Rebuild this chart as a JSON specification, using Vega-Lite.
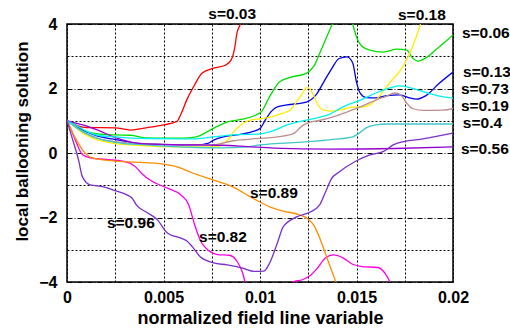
{
  "$schema": "https://vega.github.io/schema/vega-lite/v6.json",
  "autosize": "none",
  "width": 386,
  "height": 258,
  "padding": {"left": 67, "top": 24, "right": 57, "bottom": 47},
  "background": "white",
  "config": {
    "view": {"stroke": "black", "strokeWidth": 1.5},
    "font": "Liberation Sans"
  },
  "datasets": {
    "curves": [
      {"s": "0.03", "x": 0, "y": 1}, {"s": "0.03", "x": 0.0005, "y": 0.86}, {"s": "0.03", "x": 0.001, "y": 0.79}, {"s": "0.03", "x": 0.0025, "y": 0.78}, {"s": "0.03", "x": 0.0033, "y": 0.71}, {"s": "0.03", "x": 0.0041, "y": 0.78}, {"s": "0.03", "x": 0.005, "y": 0.87}, {"s": "0.03", "x": 0.0057, "y": 0.98}, {"s": "0.03", "x": 0.0059, "y": 1.2}, {"s": "0.03", "x": 0.0062, "y": 1.64}, {"s": "0.03", "x": 0.0066, "y": 2.1}, {"s": "0.03", "x": 0.007, "y": 2.48}, {"s": "0.03", "x": 0.0076, "y": 2.63}, {"s": "0.03", "x": 0.0082, "y": 2.72}, {"s": "0.03", "x": 0.0085, "y": 2.88}, {"s": "0.03", "x": 0.0087, "y": 3.3}, {"s": "0.03", "x": 0.0088, "y": 3.7}, {"s": "0.03", "x": 0.009, "y": 4.05}, {"s": "0.03", "x": 0.0092, "y": 4.8},

      {"s": "0.06", "x": 0, "y": 1}, {"s": "0.06", "x": 0.0005, "y": 0.8}, {"s": "0.06", "x": 0.001, "y": 0.66}, {"s": "0.06", "x": 0.0016, "y": 0.59}, {"s": "0.06", "x": 0.0025, "y": 0.56}, {"s": "0.06", "x": 0.0033, "y": 0.55}, {"s": "0.06", "x": 0.0041, "y": 0.47}, {"s": "0.06", "x": 0.005, "y": 0.46}, {"s": "0.06", "x": 0.006, "y": 0.46}, {"s": "0.06", "x": 0.0067, "y": 0.5}, {"s": "0.06", "x": 0.0073, "y": 0.67}, {"s": "0.06", "x": 0.0077, "y": 0.8}, {"s": "0.06", "x": 0.0083, "y": 0.96}, {"s": "0.06", "x": 0.0091, "y": 1.05}, {"s": "0.06", "x": 0.0098, "y": 1.18}, {"s": "0.06", "x": 0.0101, "y": 1.3}, {"s": "0.06", "x": 0.0104, "y": 1.64}, {"s": "0.06", "x": 0.0107, "y": 1.95}, {"s": "0.06", "x": 0.011, "y": 2.2}, {"s": "0.06", "x": 0.0116, "y": 2.35}, {"s": "0.06", "x": 0.0124, "y": 2.47}, {"s": "0.06", "x": 0.0128, "y": 2.7}, {"s": "0.06", "x": 0.0131, "y": 3.1}, {"s": "0.06", "x": 0.0136, "y": 3.8}, {"s": "0.06", "x": 0.0139, "y": 4.2}, {"s": "0.06", "x": 0.0143, "y": 4.6}, {"s": "0.06", "x": 0.0147, "y": 4.2}, {"s": "0.06", "x": 0.015, "y": 3.6}, {"s": "0.06", "x": 0.0153, "y": 3.3}, {"s": "0.06", "x": 0.0157, "y": 3.19}, {"s": "0.06", "x": 0.0164, "y": 3.13}, {"s": "0.06", "x": 0.0171, "y": 3.22}, {"s": "0.06", "x": 0.0176, "y": 3.19}, {"s": "0.06", "x": 0.0179, "y": 2.95}, {"s": "0.06", "x": 0.0182, "y": 2.85}, {"s": "0.06", "x": 0.0186, "y": 2.95}, {"s": "0.06", "x": 0.0191, "y": 3.2}, {"s": "0.06", "x": 0.0196, "y": 3.45}, {"s": "0.06", "x": 0.02, "y": 3.66},

      {"s": "0.13", "x": 0, "y": 1}, {"s": "0.13", "x": 0.0005, "y": 0.82}, {"s": "0.13", "x": 0.001, "y": 0.66}, {"s": "0.13", "x": 0.0016, "y": 0.52}, {"s": "0.13", "x": 0.0024, "y": 0.43}, {"s": "0.13", "x": 0.0033, "y": 0.33}, {"s": "0.13", "x": 0.0041, "y": 0.28}, {"s": "0.13", "x": 0.005, "y": 0.26}, {"s": "0.13", "x": 0.0067, "y": 0.25}, {"s": "0.13", "x": 0.0073, "y": 0.3}, {"s": "0.13", "x": 0.0076, "y": 0.4}, {"s": "0.13", "x": 0.0081, "y": 0.5}, {"s": "0.13", "x": 0.0088, "y": 0.56}, {"s": "0.13", "x": 0.0096, "y": 0.66}, {"s": "0.13", "x": 0.01, "y": 0.76}, {"s": "0.13", "x": 0.0103, "y": 1.05}, {"s": "0.13", "x": 0.0106, "y": 1.3}, {"s": "0.13", "x": 0.0109, "y": 1.43}, {"s": "0.13", "x": 0.0114, "y": 1.49}, {"s": "0.13", "x": 0.0124, "y": 1.58}, {"s": "0.13", "x": 0.0129, "y": 1.8}, {"s": "0.13", "x": 0.0133, "y": 2.2}, {"s": "0.13", "x": 0.0137, "y": 2.6}, {"s": "0.13", "x": 0.0141, "y": 2.93}, {"s": "0.13", "x": 0.0145, "y": 2.98}, {"s": "0.13", "x": 0.0148, "y": 2.8}, {"s": "0.13", "x": 0.015, "y": 2.2}, {"s": "0.13", "x": 0.0152, "y": 1.85}, {"s": "0.13", "x": 0.0155, "y": 1.72}, {"s": "0.13", "x": 0.016, "y": 1.71}, {"s": "0.13", "x": 0.0166, "y": 1.78}, {"s": "0.13", "x": 0.0172, "y": 1.8}, {"s": "0.13", "x": 0.0177, "y": 1.72}, {"s": "0.13", "x": 0.0181, "y": 1.67}, {"s": "0.13", "x": 0.0186, "y": 1.78}, {"s": "0.13", "x": 0.0193, "y": 2.17}, {"s": "0.13", "x": 0.02, "y": 2.51},

      {"s": "0.18", "x": 0, "y": 1}, {"s": "0.18", "x": 0.0005, "y": 0.76}, {"s": "0.18", "x": 0.001, "y": 0.55}, {"s": "0.18", "x": 0.0016, "y": 0.4}, {"s": "0.18", "x": 0.0024, "y": 0.3}, {"s": "0.18", "x": 0.0033, "y": 0.25}, {"s": "0.18", "x": 0.0041, "y": 0.22}, {"s": "0.18", "x": 0.005, "y": 0.2}, {"s": "0.18", "x": 0.0067, "y": 0.19}, {"s": "0.18", "x": 0.0078, "y": 0.19}, {"s": "0.18", "x": 0.0081, "y": 0.3}, {"s": "0.18", "x": 0.0084, "y": 0.45}, {"s": "0.18", "x": 0.0086, "y": 0.63}, {"s": "0.18", "x": 0.009, "y": 0.87}, {"s": "0.18", "x": 0.0095, "y": 1.02}, {"s": "0.18", "x": 0.01, "y": 1.06}, {"s": "0.18", "x": 0.0106, "y": 1.12}, {"s": "0.18", "x": 0.011, "y": 1.2}, {"s": "0.18", "x": 0.0116, "y": 1.35}, {"s": "0.18", "x": 0.0119, "y": 1.6}, {"s": "0.18", "x": 0.0122, "y": 1.85}, {"s": "0.18", "x": 0.0124, "y": 2.03}, {"s": "0.18", "x": 0.0126, "y": 1.98}, {"s": "0.18", "x": 0.0128, "y": 1.75}, {"s": "0.18", "x": 0.013, "y": 1.5}, {"s": "0.18", "x": 0.0133, "y": 1.33}, {"s": "0.18", "x": 0.0138, "y": 1.3}, {"s": "0.18", "x": 0.0143, "y": 1.35}, {"s": "0.18", "x": 0.0148, "y": 1.42}, {"s": "0.18", "x": 0.0153, "y": 1.42}, {"s": "0.18", "x": 0.0157, "y": 1.5}, {"s": "0.18", "x": 0.016, "y": 1.64}, {"s": "0.18", "x": 0.0167, "y": 2.17}, {"s": "0.18", "x": 0.0174, "y": 2.67}, {"s": "0.18", "x": 0.0179, "y": 3.29}, {"s": "0.18", "x": 0.0183, "y": 3.97}, {"s": "0.18", "x": 0.0186, "y": 4.6},

      {"s": "0.19", "x": 0, "y": 1}, {"s": "0.19", "x": 0.0005, "y": 0.8}, {"s": "0.19", "x": 0.001, "y": 0.6}, {"s": "0.19", "x": 0.0016, "y": 0.45}, {"s": "0.19", "x": 0.0025, "y": 0.35}, {"s": "0.19", "x": 0.0041, "y": 0.28}, {"s": "0.19", "x": 0.0067, "y": 0.25}, {"s": "0.19", "x": 0.0076, "y": 0.26}, {"s": "0.19", "x": 0.0086, "y": 0.38}, {"s": "0.19", "x": 0.0095, "y": 0.43}, {"s": "0.19", "x": 0.0109, "y": 0.5}, {"s": "0.19", "x": 0.0117, "y": 0.59}, {"s": "0.19", "x": 0.0122, "y": 0.85}, {"s": "0.19", "x": 0.0126, "y": 0.96}, {"s": "0.19", "x": 0.013, "y": 1.0}, {"s": "0.19", "x": 0.0138, "y": 1.12}, {"s": "0.19", "x": 0.0145, "y": 1.27}, {"s": "0.19", "x": 0.0152, "y": 1.43}, {"s": "0.19", "x": 0.016, "y": 1.64}, {"s": "0.19", "x": 0.0165, "y": 1.75}, {"s": "0.19", "x": 0.017, "y": 1.86}, {"s": "0.19", "x": 0.0173, "y": 1.8}, {"s": "0.19", "x": 0.0176, "y": 1.55}, {"s": "0.19", "x": 0.0179, "y": 1.38}, {"s": "0.19", "x": 0.0185, "y": 1.32}, {"s": "0.19", "x": 0.0195, "y": 1.33}, {"s": "0.19", "x": 0.02, "y": 1.38},

      {"s": "0.4", "x": 0, "y": 1}, {"s": "0.4", "x": 0.0005, "y": 0.78}, {"s": "0.4", "x": 0.001, "y": 0.6}, {"s": "0.4", "x": 0.0016, "y": 0.45}, {"s": "0.4", "x": 0.0025, "y": 0.33}, {"s": "0.4", "x": 0.0041, "y": 0.25}, {"s": "0.4", "x": 0.0067, "y": 0.17}, {"s": "0.4", "x": 0.008, "y": 0.16}, {"s": "0.4", "x": 0.0093, "y": 0.19}, {"s": "0.4", "x": 0.01, "y": 0.25}, {"s": "0.4", "x": 0.011, "y": 0.3}, {"s": "0.4", "x": 0.0125, "y": 0.35}, {"s": "0.4", "x": 0.0138, "y": 0.42}, {"s": "0.4", "x": 0.0148, "y": 0.5}, {"s": "0.4", "x": 0.0151, "y": 0.6}, {"s": "0.4", "x": 0.0155, "y": 0.78}, {"s": "0.4", "x": 0.016, "y": 0.87}, {"s": "0.4", "x": 0.0166, "y": 0.9}, {"s": "0.4", "x": 0.02, "y": 0.9},

      {"s": "0.56", "x": 0, "y": 1}, {"s": "0.56", "x": 0.0005, "y": 0.92}, {"s": "0.56", "x": 0.0009, "y": 0.86}, {"s": "0.56", "x": 0.0016, "y": 0.71}, {"s": "0.56", "x": 0.0024, "y": 0.5}, {"s": "0.56", "x": 0.0033, "y": 0.34}, {"s": "0.56", "x": 0.0041, "y": 0.28}, {"s": "0.56", "x": 0.0067, "y": 0.25}, {"s": "0.56", "x": 0.008, "y": 0.24}, {"s": "0.56", "x": 0.0093, "y": 0.2}, {"s": "0.56", "x": 0.0107, "y": 0.15}, {"s": "0.56", "x": 0.0136, "y": 0.12}, {"s": "0.56", "x": 0.017, "y": 0.14}, {"s": "0.56", "x": 0.02, "y": 0.19},

      {"s": "0.73", "x": 0, "y": 1}, {"s": "0.73", "x": 0.0005, "y": 0.85}, {"s": "0.73", "x": 0.001, "y": 0.68}, {"s": "0.73", "x": 0.0016, "y": 0.55}, {"s": "0.73", "x": 0.0025, "y": 0.5}, {"s": "0.73", "x": 0.0041, "y": 0.45}, {"s": "0.73", "x": 0.0067, "y": 0.44}, {"s": "0.73", "x": 0.0076, "y": 0.5}, {"s": "0.73", "x": 0.0086, "y": 0.56}, {"s": "0.73", "x": 0.01, "y": 0.59}, {"s": "0.73", "x": 0.0108, "y": 0.72}, {"s": "0.73", "x": 0.0114, "y": 0.87}, {"s": "0.73", "x": 0.0121, "y": 0.98}, {"s": "0.73", "x": 0.013, "y": 1.1}, {"s": "0.73", "x": 0.0136, "y": 1.2}, {"s": "0.73", "x": 0.0143, "y": 1.43}, {"s": "0.73", "x": 0.0152, "y": 1.64}, {"s": "0.73", "x": 0.016, "y": 1.86}, {"s": "0.73", "x": 0.0168, "y": 2.03}, {"s": "0.73", "x": 0.0172, "y": 2.08}, {"s": "0.73", "x": 0.0178, "y": 2.02}, {"s": "0.73", "x": 0.0187, "y": 1.86}, {"s": "0.73", "x": 0.0195, "y": 1.74}, {"s": "0.73", "x": 0.02, "y": 1.7},

      {"s": "0.82", "x": 0, "y": 1}, {"s": "0.82", "x": 0.0003, "y": 0.6}, {"s": "0.82", "x": 0.0005, "y": 0.3}, {"s": "0.82", "x": 0.0008, "y": -0.05}, {"s": "0.82", "x": 0.0012, "y": -0.15}, {"s": "0.82", "x": 0.002, "y": -0.2}, {"s": "0.82", "x": 0.003, "y": -0.27}, {"s": "0.82", "x": 0.0035, "y": -0.4}, {"s": "0.82", "x": 0.0039, "y": -0.65}, {"s": "0.82", "x": 0.0043, "y": -0.84}, {"s": "0.82", "x": 0.0052, "y": -1.09}, {"s": "0.82", "x": 0.0059, "y": -1.3}, {"s": "0.82", "x": 0.0063, "y": -1.6}, {"s": "0.82", "x": 0.0066, "y": -2.2}, {"s": "0.82", "x": 0.0069, "y": -2.7}, {"s": "0.82", "x": 0.0074, "y": -3.05}, {"s": "0.82", "x": 0.0078, "y": -3.15}, {"s": "0.82", "x": 0.0084, "y": -3.17}, {"s": "0.82", "x": 0.0088, "y": -3.35}, {"s": "0.82", "x": 0.0091, "y": -3.72}, {"s": "0.82", "x": 0.0093, "y": -4.2}, {"s": "0.82", "x": 0.0096, "y": -5}, {"s": "0.82", "x": 0.0104, "y": -5.3}, {"s": "0.82", "x": 0.0112, "y": -4.3}, {"s": "0.82", "x": 0.0117, "y": -4.0}, {"s": "0.82", "x": 0.0122, "y": -3.93}, {"s": "0.82", "x": 0.0126, "y": -3.8}, {"s": "0.82", "x": 0.013, "y": -3.55}, {"s": "0.82", "x": 0.0134, "y": -3.25}, {"s": "0.82", "x": 0.0138, "y": -3.16}, {"s": "0.82", "x": 0.0143, "y": -3.25}, {"s": "0.82", "x": 0.0148, "y": -3.45}, {"s": "0.82", "x": 0.0153, "y": -3.52}, {"s": "0.82", "x": 0.0161, "y": -3.55}, {"s": "0.82", "x": 0.0165, "y": -3.75}, {"s": "0.82", "x": 0.0168, "y": -4.1}, {"s": "0.82", "x": 0.0171, "y": -4.8},

      {"s": "0.89", "x": 0, "y": 1}, {"s": "0.89", "x": 0.0004, "y": 0.5}, {"s": "0.89", "x": 0.0008, "y": 0.1}, {"s": "0.89", "x": 0.0013, "y": -0.15}, {"s": "0.89", "x": 0.0025, "y": -0.25}, {"s": "0.89", "x": 0.004, "y": -0.3}, {"s": "0.89", "x": 0.0048, "y": -0.33}, {"s": "0.89", "x": 0.0057, "y": -0.43}, {"s": "0.89", "x": 0.0065, "y": -0.62}, {"s": "0.89", "x": 0.0076, "y": -0.84}, {"s": "0.89", "x": 0.0086, "y": -1.05}, {"s": "0.89", "x": 0.0095, "y": -1.36}, {"s": "0.89", "x": 0.01, "y": -1.52}, {"s": "0.89", "x": 0.0105, "y": -1.67}, {"s": "0.89", "x": 0.0112, "y": -1.8}, {"s": "0.89", "x": 0.0121, "y": -1.93}, {"s": "0.89", "x": 0.0125, "y": -2.05}, {"s": "0.89", "x": 0.0128, "y": -2.25}, {"s": "0.89", "x": 0.013, "y": -2.5}, {"s": "0.89", "x": 0.0135, "y": -3.3}, {"s": "0.89", "x": 0.0139, "y": -3.95}, {"s": "0.89", "x": 0.0143, "y": -4.6},

      {"s": "0.96", "x": 0, "y": 1}, {"s": "0.96", "x": 0.0003, "y": 0.4}, {"s": "0.96", "x": 0.0006, "y": -0.22}, {"s": "0.96", "x": 0.0008, "y": -0.74}, {"s": "0.96", "x": 0.0012, "y": -0.99}, {"s": "0.96", "x": 0.0019, "y": -1.05}, {"s": "0.96", "x": 0.0024, "y": -1.15}, {"s": "0.96", "x": 0.0031, "y": -1.3}, {"s": "0.96", "x": 0.0034, "y": -1.42}, {"s": "0.96", "x": 0.0036, "y": -1.62}, {"s": "0.96", "x": 0.0041, "y": -1.83}, {"s": "0.96", "x": 0.0047, "y": -2.08}, {"s": "0.96", "x": 0.0052, "y": -2.48}, {"s": "0.96", "x": 0.0059, "y": -2.64}, {"s": "0.96", "x": 0.0062, "y": -2.72}, {"s": "0.96", "x": 0.0065, "y": -2.91}, {"s": "0.96", "x": 0.0069, "y": -3.22}, {"s": "0.96", "x": 0.0076, "y": -3.41}, {"s": "0.96", "x": 0.0083, "y": -3.47}, {"s": "0.96", "x": 0.0091, "y": -3.57}, {"s": "0.96", "x": 0.0097, "y": -3.67}, {"s": "0.96", "x": 0.0102, "y": -3.66}, {"s": "0.96", "x": 0.0105, "y": -3.41}, {"s": "0.96", "x": 0.0109, "y": -2.79}, {"s": "0.96", "x": 0.0112, "y": -2.29}, {"s": "0.96", "x": 0.0119, "y": -1.98}, {"s": "0.96", "x": 0.0126, "y": -1.83}, {"s": "0.96", "x": 0.0131, "y": -1.6}, {"s": "0.96", "x": 0.0134, "y": -1.2}, {"s": "0.96", "x": 0.0137, "y": -0.8}, {"s": "0.96", "x": 0.0141, "y": -0.59}, {"s": "0.96", "x": 0.015, "y": -0.24}, {"s": "0.96", "x": 0.0157, "y": -0.06}, {"s": "0.96", "x": 0.0164, "y": 0.05}, {"s": "0.96", "x": 0.0169, "y": 0.25}, {"s": "0.96", "x": 0.0175, "y": 0.36}, {"s": "0.96", "x": 0.0183, "y": 0.42}, {"s": "0.96", "x": 0.019, "y": 0.5}, {"s": "0.96", "x": 0.02, "y": 0.62}
    ],
    "labels": [
      {"label": "s=0.03", "x": 0.00732, "y": 4.31},
      {"label": "s=0.18", "x": 0.01715, "y": 4.28},
      {"label": "s=0.06", "x": 0.02046, "y": 3.72},
      {"label": "s=0.13", "x": 0.02052, "y": 2.51},
      {"label": "s=0.73", "x": 0.02041, "y": 1.97},
      {"label": "s=0.19", "x": 0.02041, "y": 1.46},
      {"label": "s=0.4", "x": 0.02051, "y": 0.93},
      {"label": "s=0.56", "x": 0.02041, "y": 0.12},
      {"label": "s=0.89", "x": 0.00948, "y": -1.24},
      {"label": "s=0.96", "x": 0.00207, "y": -2.17},
      {"label": "s=0.82", "x": 0.00684, "y": -2.6}
    ]
  },
  "encoding": {
    "x": {
      "field": "x", "type": "quantitative",
      "scale": {"domain": [0, 0.02], "nice": false, "zero": false},
      "axis": {
        "title": "normalized field line variable",
        "values": [0, 0.0025, 0.005, 0.0075, 0.01, 0.0125, 0.015, 0.0175, 0.02],
        "labelExpr": "round(datum.value*1000) % 5 == 0 ? format(datum.value, '~g') : ''",
        "grid": true, "gridColor": "black", "gridOpacity": 1, "gridWidth": 1, "gridDash": [2, 2],
        "domain": false, "ticks": false,
        "labelFont": "Liberation Sans", "labelFontSize": 16, "labelFontWeight": "bold", "labelColor": "black",
        "labelPadding": 7, "labelFlush": false,
        "titleFont": "Liberation Sans", "titleFontSize": 18, "titleFontWeight": "bold", "titleColor": "black",
        "titleBaseline": "alphabetic", "titleY": 41
      }
    },
    "y": {
      "field": "y", "type": "quantitative",
      "scale": {"domain": [-4, 4], "nice": false, "zero": false},
      "axis": {
        "title": "local ballooning solution",
        "values": [-4, -3, -2, -1, 0, 1, 2, 3, 4],
        "labelExpr": "datum.value % 2 == 0 ? format(datum.value, 'd') : ''",
        "grid": true, "gridColor": "black", "gridOpacity": 1, "gridWidth": 1,
        "gridDash": {"condition": {"test": "datum.value % 2 == 0", "value": [5, 2, 1, 2]}, "value": [2, 2]},
        "domain": false, "ticks": false,
        "labelFont": "Liberation Sans", "labelFontSize": 16, "labelFontWeight": "bold", "labelColor": "black",
        "labelPadding": 10, "labelFlush": false,
        "titleFont": "Liberation Sans", "titleFontSize": 17, "titleFontWeight": "bold", "titleColor": "black",
        "titleBaseline": "alphabetic", "titleX": -40, "titleY": 117, "titleAngle": -90
      }
    }
  },
  "layer": [
    {
      "data": {"name": "curves"},
      "mark": {"type": "line", "clip": true, "strokeWidth": 1.3, "interpolate": "monotone"},
      "encoding": {
        "color": {
          "field": "s", "type": "nominal", "legend": null,
          "scale": {
            "domain": ["0.03", "0.06", "0.13", "0.18", "0.19", "0.4", "0.56", "0.73", "0.82", "0.89", "0.96"],
            "range": ["#ff0000", "#00e000", "#0000ee", "#ffee00", "#bc8f8f", "#40c8c8", "#9400d3", "#00f0f0", "#ff00e0", "#ff8c00", "#7a30c8"]
          }
        },
        "detail": {"field": "s"},
        "order": {"field": "x", "type": "quantitative"}
      }
    },
    {
      "data": {"name": "labels"},
      "mark": {"type": "text", "align": "left", "baseline": "middle", "font": "Liberation Sans", "fontSize": 15.5, "fontWeight": "bold", "color": "black", "clip": false},
      "encoding": {
        "text": {"field": "label"}
      }
    }
  ]
}
